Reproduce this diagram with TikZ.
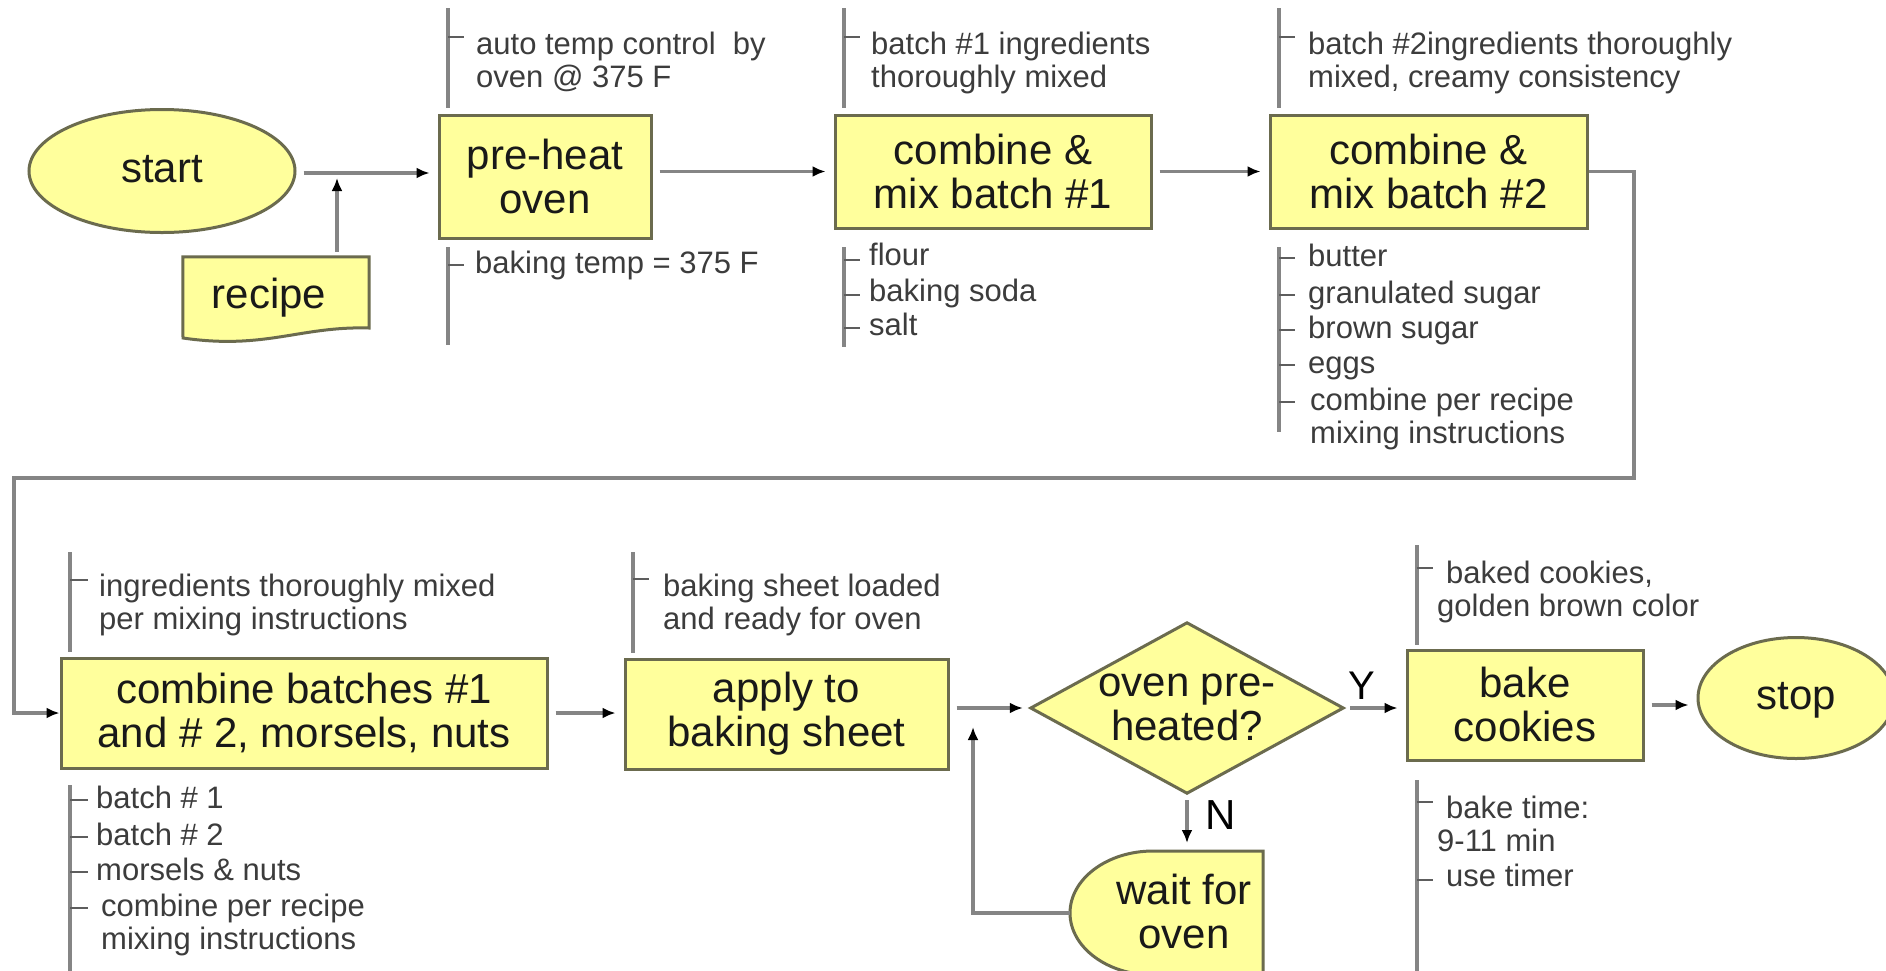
\documentclass[tikz,border=0pt]{standalone}
\usepackage{fontspec}
\setmainfont{Liberation Sans}
\usetikzlibrary{arrows.meta,shapes.geometric,backgrounds}

\definecolor{boxfill}{HTML}{FFFF9C}
\definecolor{boxline}{HTML}{6B6B4E}
\definecolor{wire}{HTML}{858585}
\definecolor{notegray}{HTML}{3C3C3C}

% fixed line struts so that every label box has the same height and depth
\newcommand\bigstrut{\rule[-9pt]{0pt}{40pt}}
\newcommand\lowstrut{\rule[-1pt]{0pt}{42pt}}
\newcommand\smallstrut{\rule[-7pt]{0pt}{30pt}}

\tikzset{
  flowbase/.style={font=\fontsize{42}{44}\selectfont, text=black!90,
    align=center, inner sep=0pt},
  flowtext/.style={flowbase,
    execute at begin node=\bigstrut, execute at end node=\bigstrut},
  lowtext/.style={flowbase,
    execute at begin node=\lowstrut, execute at end node=\lowstrut},
  stepbox/.style={lowtext, draw=boxline, fill=boxfill, line width=3pt},
  termnode/.style={flowtext, draw=boxline, fill=boxfill, line width=3pt, ellipse},
  shapeline/.style={draw=boxline, fill=boxfill, line width=3pt, line join=miter},
  conn/.style={draw=wire, line width=3.2pt,
    -{Latex[length=13pt,width=11pt,color=black]},
    shorten <=7pt, shorten >=8pt},
  notebar/.style={draw=wire, line width=3.5pt},
  notetick/.style={draw=wire!70!black, line width=2pt},
  notetext/.style={font=\fontsize{31}{33}\selectfont, text=notegray,
    execute at begin node=\smallstrut, execute at end node=\smallstrut,
    anchor=west, align=left, inner sep=0pt},
}

\begin{document}
\begin{tikzpicture}[x=1pt,y=-1pt]
\useasboundingbox (0,0) rectangle (1886,970);
\begin{scope}[on background layer]
  \fill[white] (0,0) rectangle (1886,970);
\end{scope}

% ---------- first row ----------
\node[termnode, minimum width=266pt, minimum height=123pt] (start) at (162,171) {start};

\node[lowtext, minimum width=186pt, minimum height=71pt] (recipe) at (276,292.5) {recipe\hspace*{14pt}};
\begin{scope}[on background layer]
  \draw[shapeline] (recipe.north west) -- (recipe.north east) -- (369,328)
    .. controls (300,326) and (265,350) .. (183,338) -- cycle;
\end{scope}

\node[stepbox, minimum width=212pt, minimum height=123pt] (preheat) at (545,176.5) {pre-heat\\oven};
\node[stepbox, minimum width=316pt, minimum height=113pt] (mixone) at (993,171.5) {combine \&\\mix batch \#1};
\node[stepbox, minimum width=317pt, minimum height=113pt] (mixtwo) at (1428.5,171.5) {combine \&\\mix batch \#2};

\coordinate (join) at (337,173);
\draw[conn] (start.east |- join) -- (join -| preheat.west);
\draw[conn, shorten <=5pt, shorten >=5pt] (recipe.north -| join) -- (join);
\draw[conn] (preheat.east |- mixone.west) -- (mixone.west);
\draw[conn] (mixone.east) -- (mixtwo.west);

% ---------- second row ----------
\node[stepbox, minimum width=486pt, minimum height=110pt] (mixall) at (304,713) {combine batches \#1\\and \# 2, morsels, nuts};
\node[stepbox, minimum width=323pt, minimum height=110pt] (apply) at (786.5,714) {apply to\\baking sheet};

\node[lowtext, minimum width=312pt, minimum height=170pt] (ready) at (1187,708) {oven pre-\\heated?};
\begin{scope}[on background layer]
  \draw[shapeline] (ready.west) -- (ready.north) -- (ready.east) -- (ready.south) -- cycle;
\end{scope}

\node[flowtext, minimum width=193pt, minimum height=124pt] (wait) at (1166.5,916) {\hspace*{35pt}wait for\\\hspace*{35pt}oven};
\begin{scope}[on background layer]
  \draw[shapeline] (1153,851) -- (1263,851) -- (1263,975) -- (1153,975)
    .. controls (1107,975) and (1070,947) .. (1070,913)
    .. controls (1070,879) and (1107,851) .. (1153,851) -- cycle;
\end{scope}
\coordinate (waitIn) at (1070,913);
\coordinate (waitTop) at (1187,851);

\node[stepbox, minimum width=236pt, minimum height=110pt] (bake) at (1525,705) {bake\\cookies};
\node[termnode, minimum width=196pt, minimum height=121pt] (stop) at (1796,698) {stop};

% row change: from batch #2 round to the combining step
\coordinate (turnR) at (1634,478);
\coordinate (turnL) at (14,478);
\draw[conn, shorten <=0pt, shorten >=0pt] (mixtwo.east) -| (turnR) -- (turnL) |- (mixall.west);

\draw[conn] (mixall.east) -- (mixall.east -| apply.west);
\draw[conn] (apply.east |- ready.west) -- (ready.west);
\draw[conn] (ready.east) -- (ready.east -| bake.west);
\draw[conn] (bake.east) -- (bake.east -| stop.west);
\draw[conn] (ready.south) -- (waitTop);

\coordinate (loopTop) at (973,708);
\draw[conn, shorten <=0pt, shorten >=19pt] (waitIn) -| (loopTop);

\node[font=\fontsize{40}{40}\selectfont, inner sep=0pt] (yes) at (1362,686) {Y};
\node[font=\fontsize{42}{42}\selectfont, inner sep=0pt] (no) at (1221,815) {N};

% ---------- notes: pre-heat oven ----------
\draw[notebar] (448,8) -- (448,108);
\draw[notetick] (448,37) -- +(16,0);
\node[notetext] (heatOut) at (476,63) {auto temp control~~by\\oven @ 375 F};

\draw[notebar] (448,247) -- (448,345);
\draw[notetick] (448,265) -- +(16,0);
\node[notetext] (heatIn) at (475,265) {baking temp = 375 F};

% ---------- notes: batch #1 ----------
\draw[notebar] (844,8) -- (844,108);
\draw[notetick] (844,37) -- +(16,0);
\node[notetext] (oneOut) at (871,63) {batch \#1 ingredients\\thoroughly mixed};

\draw[notebar] (844,247) -- (844,347);
\foreach \y in {260,295,328} \draw[notetick] (844,\y) -- +(16,0);
\node[notetext] (oneA) at (869,257) {flour};
\node[notetext] (oneB) at (869,293) {baking soda};
\node[notetext] (oneC) at (869,327) {salt};

% ---------- notes: batch #2 ----------
\draw[notebar] (1279,8) -- (1279,108);
\draw[notetick] (1279,37) -- +(16,0);
\node[notetext] (twoOut) at (1308,63) {batch \#2ingredients thoroughly\\mixed, creamy consistency};

\draw[notebar] (1279,247) -- (1279,432);
\foreach \y in {258,295,330,365,402} \draw[notetick] (1279,\y) -- +(16,0);
\node[notetext] (twoA) at (1308,258) {butter};
\node[notetext] (twoB) at (1308,295) {granulated sugar};
\node[notetext] (twoC) at (1308,330) {brown sugar};
\node[notetext] (twoD) at (1308,365) {eggs};
\node[notetext] (twoE) at (1310,419.5) {combine per recipe\\mixing instructions};

% ---------- notes: combining step ----------
\draw[notebar] (70,552) -- (70,652);
\draw[notetick] (70,580) -- +(18,0);
\node[notetext] (allOut) at (99,605) {ingredients thoroughly mixed\\per mixing instructions};

\draw[notebar] (70,785) -- (70,975);
\foreach \y in {800,837,872,908} \draw[notetick] (70,\y) -- +(18,0);
\node[notetext] (allA) at (96,800) {batch \# 1};
\node[notetext] (allB) at (96,837) {batch \# 2};
\node[notetext] (allC) at (96,872) {morsels \& nuts};
\node[notetext] (allD) at (101,925.5) {combine per recipe\\mixing instructions};

% ---------- notes: baking sheet ----------
\draw[notebar] (633,552) -- (633,653);
\draw[notetick] (633,579) -- +(16,0);
\node[notetext] (sheetOut) at (663,605) {baking sheet loaded\\and ready for oven};

% ---------- notes: bake cookies ----------
\draw[notebar] (1417,545) -- (1417,645);
\draw[notetick] (1417,568) -- +(16,0);
\node[notetext] (bakeOut) at (1437,592.5) {\hspace*{9pt}baked cookies,\\golden brown color};

\draw[notebar] (1417,780) -- (1417,975);
\foreach \y in {802,880} \draw[notetick] (1417,\y) -- +(16,0);
\node[notetext] (bakeA) at (1437,827) {\hspace*{9pt}bake time:\\9-11 min};
\node[notetext] (bakeB) at (1446,878) {use timer};

\end{tikzpicture}
\end{document}
